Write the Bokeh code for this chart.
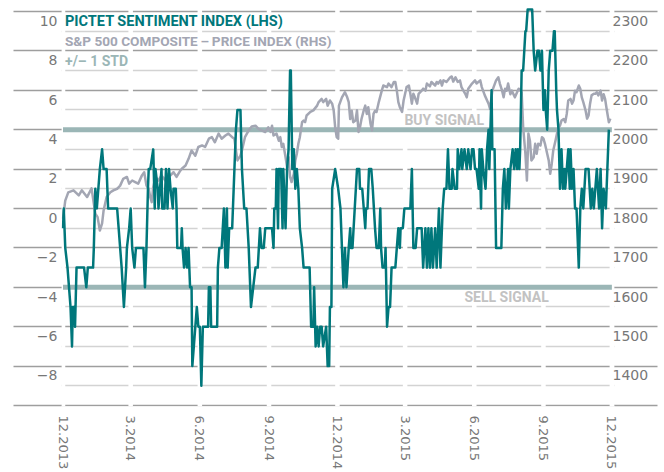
import pandas as pd
from bokeh.plotting import figure
from bokeh.models import Range1d, LinearAxis, FixedTicker, Label
from bokeh.embed import file_html
from bokeh.resources import INLINE

START = pd.Timestamp("2013-12-01")

# Pictet sentiment index (LHS): days after 1 Dec 2013 and index value
sent_days = [
    0, 1, 3, 6, 8, 10, 12, 13, 15, 16,
    18, 28, 31, 33, 40, 41, 43, 45, 47, 49,
    52, 54, 58, 60, 72, 74, 76, 78, 81, 84,
    85, 88, 90, 92, 95, 97, 107, 109, 111, 113,
    114, 116, 120,
    122, 123, 126, 127, 131, 132, 135, 137, 138, 139,
    141, 143, 146, 147, 150, 151, 152, 157, 158, 159,
    161, 163, 165, 167, 169, 171, 172, 176, 178, 180,
    182, 184, 186, 193, 194, 196, 197, 205, 206, 208,
    211, 214, 216, 218, 219, 221, 225, 227, 228, 230,
    232, 236,
    238, 241, 244, 247, 249, 250, 253, 256, 259, 262,
    264, 267, 269, 276, 278, 280, 281, 283, 284, 286,
    287, 290, 292, 293, 296, 298, 300, 302, 303, 305,
    307, 309, 311, 313, 315, 318, 320, 324, 328, 330,
    333, 334, 336, 338, 340, 342, 344, 346, 350, 352,
    354, 355, 357, 358,
    362, 366, 369, 373, 375, 377, 380, 382, 383, 385,
    388, 391, 394, 395, 398, 400, 402, 403, 405, 407,
    410, 412, 415, 417, 420, 422, 423, 425, 428, 429,
    431, 433, 435, 437, 442, 444, 446, 448, 449, 452,
    454, 462, 464, 466, 469, 471,
    473, 477, 479, 482, 484, 486, 488, 490, 492, 495,
    497, 500, 502, 505, 507, 510, 512, 514, 517, 518,
    521, 524, 525, 527, 530, 531, 534, 537, 539, 542,
    544, 546, 548, 550, 553, 554, 556, 557, 559, 562,
    564, 566, 567, 570, 571, 574, 576, 583, 585, 587,
    589, 592, 593, 595, 598, 600, 602, 604, 605, 607,
    608, 610, 612, 615, 616, 618, 624, 626, 628, 631,
    633, 635, 637, 639, 641, 642, 644, 646, 648, 651,
    653, 654, 656, 657, 659, 661, 663, 665, 667, 668,
    670, 672, 674, 675, 677, 679, 681, 683, 686, 688,
    690, 692, 695, 699, 702, 704, 706, 708, 710, 713,
    715, 717, 719, 722, 724, 726,
]
sent_vals = [
    -1, 0, -2, -3, -4, -5, -7, -5, -5, -6,
    -3, -3, -4, -3, -3, -2, 1, 0, 1, 2,
    3, 2, 2, 0, 0, -1, -2, -3, -5, -3,
    -2, -1, 0, -2, -3, -2, -2, -4, -2, 1,
    2, 2, 3,
    0, 2, 1, 0, 2, 0, 0, 2, 1, 0,
    2, 1, 0, 1, 1, 0, -2, -2, -1, -2,
    -3, -2, -3, -2, -4, -4, -8, -6, -5, -6,
    -6, -9, -6, -6, -4, -4, -6, -6, -3, -2,
    -2, 0, -3, 0, -3, -1, -1, 1, 2, 4,
    5, 5,
    2, 0, 0, -2, -4, -5, -4, -3, -3, -1,
    -2, -2, -1, -1, -1, -2, 0, 0, 2, -1,
    2, 2, -1, 2, -1, 2, 3, 7, 7, 2,
    3, 1, 2, 1, -1, -2, -3, -3, -3, -6,
    -6, -4, -7, -6, -7, -6, -6, -7, -6, -8,
    -8, -5, -5, 1,
    2, 1, 0, -4, -2, -4, -2, -1, -2, -2,
    0, 2, 2, 1, 1, 0, -1, 0, 0, 2,
    2, 1, -1, -2, -2, 0, -2, -3, -3, -2,
    -6, -5, -5, -3, -3, -2, -1, -2, -1, -1,
    0, 0, 2, -2, -2, -1,
    -1, -1, -3, -1, -3, -1, -3, -1, -3, -1,
    -3, 0, -3, 0, 1, 1, 3, 1, 1, 2,
    1, 1, 3, 2, 3, 2, 3, 2, 3, 2,
    3, 3, 2, 2, 1, 3, 0, 3, 2, 1,
    3, 4, 2, 6, 3, 3, -2, -2, 1, 2,
    0, 2, 0, 2, 3, 2, 3, 2, 3, 2,
    3, 7, 7, 9, 9, 10.1, 10.1, 8, 7, 8,
    8, 7, 8, 5, 6, 5, 4, 7, 8, 8,
    9, 9, 6, 5, 4, 1, 3, 1, 2, 1,
    2, 3, 1, 3, 1, 2, 0, 0, -3, 0,
    1, 0, 2, 2, 0, 1, 0, 1, 2, 0,
    2, -1, 1, 0, 2, 4,
]

# S&P 500 composite price index (RHS): days after 1 Dec 2013 and level
spx_days = [
    0, 3, 7, 14, 21, 25, 32, 38, 41, 43,
    46, 49, 52, 54, 58, 63, 67, 72, 76, 80,
    85, 88, 92, 96, 100, 105, 108, 111, 114, 116,
    118, 120, 123, 127, 131, 136, 138, 143, 147, 151,
    156, 158, 163, 167, 171, 176, 180, 185, 189, 194,
    198, 202, 207, 211, 216, 220, 225, 228, 230, 232,
    236, 238, 242, 247, 251, 256, 260, 264, 269, 273,
    276, 278, 280, 284, 287, 289, 291, 293, 296, 298,
    300, 302, 304, 307, 309, 311, 313, 315, 318, 320,
    322, 324, 329, 333, 338, 340, 344, 346, 350, 352,
    355, 358, 360, 362, 364, 366, 367, 371, 375, 378,
    380, 382, 384, 386, 389, 391, 393, 395, 397, 400,
    402, 404, 406, 409, 411, 413, 415, 417, 420, 424,
    426, 431, 433, 437, 440, 442, 444, 446, 448, 451,
    453, 455, 457, 460, 462, 464, 466, 468, 471, 473,
    477, 479, 482, 484, 488, 490, 495, 497, 499, 502,
    504, 506, 510, 515, 517, 519, 522, 525, 528, 530,
    535, 537, 539, 544, 548, 550, 555, 557, 561, 566,
    568, 571, 576, 579, 581, 584, 586, 588, 590, 592,
    595, 597, 601, 606, 610, 612, 615, 617, 619, 621,
    623, 626, 628, 630, 632, 635, 637, 639, 641, 643,
    646, 648, 650, 652, 655, 657, 659, 661, 663, 666,
    668, 670, 672, 675, 677, 679, 681, 683, 686, 688,
    690, 692, 695, 697, 699, 701, 703, 706, 708, 710,
    712, 715, 717, 719, 721, 723, 726, 728,
]
spx_vals = [
    1774, 1820, 1841, 1846, 1833, 1846, 1829, 1851, 1812, 1787,
    1778, 1744, 1762, 1795, 1829, 1841, 1846, 1850, 1858, 1875,
    1880, 1863, 1871, 1867, 1863, 1884, 1892, 1858, 1850, 1829,
    1816, 1854, 1880, 1871, 1884, 1871, 1888, 1884, 1892, 1880,
    1896, 1901, 1909, 1926, 1947, 1934, 1956, 1960, 1956, 1977,
    1981, 1968, 1990, 1977, 1985, 1990, 1981, 1977, 1947, 1922,
    1934, 1947, 1981, 1998, 2008, 2010, 2002, 1998, 1994, 2006,
    1994, 2010, 1985, 1990, 1972, 1981, 1956, 1964, 1930, 1905,
    1930, 1880, 1867, 1888, 1922, 1939, 1964, 1981, 2019, 2023,
    2019, 2036, 2045, 2049, 2061, 2070, 2078, 2070, 2078, 2061,
    2074, 2066, 2049, 2006, 1981, 1977, 2061, 2082, 2095, 2082,
    2070, 2027, 2048, 2019, 2023, 2049, 1994, 2006, 2027, 2049,
    2061, 2040, 2057, 2015, 1998, 2040, 2048, 2045, 2070, 2099,
    2112, 2108, 2117, 2108, 2121, 2121, 2099, 2070, 2057, 2045,
    2074, 2091, 2108, 2112, 2091, 2066, 2091, 2082, 2066, 2091,
    2099, 2104, 2099, 2117, 2110, 2121, 2112, 2121, 2117, 2125,
    2112, 2125, 2121, 2133, 2135, 2122, 2133, 2121, 2125, 2108,
    2091, 2082, 2104, 2117, 2125, 2117, 2125, 2108, 2087, 2066,
    2053, 2099, 2125, 2133, 2117, 2099, 2082, 2104, 2099, 2117,
    2090, 2099, 2082, 2104, 2095, 2006, 1939, 1871, 1990, 1972,
    1922, 1930, 1964, 1939, 1964, 1960, 1981, 1977, 1964, 1947,
    1922, 1888, 1913, 1947, 1972, 1990, 2006, 2010, 2023, 2027,
    2019, 2040, 2074, 2078, 2066, 2074, 2099, 2095, 2112, 2104,
    2082, 2070, 2049, 2028, 2036, 2066, 2087, 2091, 2091, 2095,
    2087, 2099, 2074, 2090, 2078, 2053, 2019, 2028,
]

# +/- 1 STD signal levels on the sentiment index
buy_level = 4
sell_level = -4

lhs_ticks = [-10, -8, -6, -4, -2, 0, 2, 4, 6, 8, 10]
lhs_labels = ["", "\u22128", "\u22126", "\u22124", "\u22122", "0", "2", "4", "6", "8", "10"]
lhs_minor = [-9, -7, -5, -3, -1, 1, 3, 5, 7, 9]
rhs_ticks = [1300, 1400, 1500, 1600, 1700, 1800, 1900, 2000, 2100, 2200, 2300]
rhs_labels = ["", "1400", "1500", "1600", "1700", "1800", "1900", "2000", "2100", "2200", "2300"]
x_tick_dates = ["2013-12-01", "2014-03-01", "2014-06-01", "2014-09-01", "2014-12-01",
                "2015-03-01", "2015-06-01", "2015-09-01", "2015-12-01"]
x_tick_labels = ["12.2013", "3.2014", "6.2014", "9.2014", "12.2014",
                 "3.2015", "6.2015", "9.2015", "12.2015"]

TEAL = "#00777b"
SPX_GRAY = "#a3a6b3"
STD_COL = "#9bb6b6"
GRID_DARK = "#9e9e9e"
GRID_LIGHT = "#d3d3d3"
LABEL_COL = "#777777"
SIGNAL_TXT = "#c2c2c2"

sent_x = START + pd.to_timedelta(sent_days, unit="D")
spx_x = START + pd.to_timedelta(spx_days, unit="D")
tick_x = pd.to_datetime(x_tick_dates)
tick_ms = [float(t.value // 10**6) for t in tick_x]

HEADROOM = 20  # hidden canvas space above the page top, so top labels are not squeezed

x_lo = START - pd.Timedelta(days=2)
x_hi = START + pd.Timedelta(days=733.5)
y_lo, y_hi = -10.05, 10.2
p = figure(
    frame_width=553, frame_height=399,
    x_axis_type="datetime",
    x_range=Range1d(x_lo, x_hi),
    y_range=Range1d(y_lo, y_hi),
    output_backend="svg", toolbar_location=None,
    min_border_left=61, min_border_right=50, min_border_top=7 + HEADROOM,
    min_border_bottom=66,
    background_fill_color="white", border_fill_color="white",
    styles={"margin-top": f"-{HEADROOM}px"},
)
p.outline_line_color = None
p.extra_y_ranges = {"spx": Range1d(1800 + 50 * y_lo, 1800 + 50 * y_hi)}

# grid
p.xgrid.grid_line_color = None
p.ygrid.grid_line_color = GRID_DARK
p.ygrid.grid_line_width = 1.5
p.ygrid.minor_grid_line_color = GRID_LIGHT
p.ygrid.minor_grid_line_width = 1.5

LBL_FONT = "DejaVu Sans"
LBL_SIZE = "14px"


def style_y_axis(ax, tick_out, standoff):
    ax.axis_line_color = None
    ax.major_tick_in = 0
    ax.major_tick_out = tick_out
    ax.major_tick_line_color = GRID_DARK
    ax.major_tick_line_width = 1.5
    ax.minor_tick_in = 0
    ax.minor_tick_out = 0
    ax.major_label_standoff = standoff
    ax.major_label_text_font = LBL_FONT
    ax.major_label_text_font_size = LBL_SIZE
    ax.major_label_text_line_height = 1.17
    ax.major_label_text_color = LABEL_COL


# left axis: labels hang just below their grid line (blank first line)
lax = p.yaxis[0]
lax.ticker = FixedTicker(ticks=lhs_ticks, minor_ticks=lhs_minor)
lax.major_label_overrides = {float(t): "\n" + s for t, s in zip(lhs_ticks, lhs_labels)}
style_y_axis(lax, 48, -44)

# right axis
rax = LinearAxis(y_range_name="spx", ticker=FixedTicker(ticks=rhs_ticks, minor_ticks=[]))
rax.major_label_overrides = {float(t): "\n" + s for t, s in zip(rhs_ticks, rhs_labels)}
style_y_axis(rax, 43, -45)
p.add_layout(rax, "right")

# x axis
xax = p.xaxis[0]
xax.ticker = FixedTicker(ticks=tick_ms)
xax.major_label_overrides = {t: s for t, s in zip(tick_ms, x_tick_labels)}
xax.axis_line_color = None
xax.major_tick_in = 0
xax.major_tick_out = 0
xax.minor_tick_in = 0
xax.minor_tick_out = 0
xax.major_label_orientation = "vertical"
xax.major_label_standoff = 9
xax.major_label_text_font = LBL_FONT
xax.major_label_text_font_size = "13px"
xax.major_label_text_color = LABEL_COL

# white gaps in the grid at each date tick
p.vbar(x=tick_x, width=6 * 86400000, bottom=y_lo, top=y_hi,
       fill_color="white", line_color=None)

# +/- 1 STD signal lines
p.line(x=[tick_x[0], tick_x[-1]], y=[buy_level, buy_level], line_color=STD_COL, line_width=5)
p.line(x=[tick_x[0], tick_x[-1]], y=[sell_level, sell_level], line_color=STD_COL, line_width=5)

# series
p.line(x=spx_x, y=spx_vals, y_range_name="spx", line_color=SPX_GRAY, line_width=2.5,
       line_join="round")
p.line(x=sent_x, y=sent_vals, line_color=TEAL, line_width=2.5, line_join="round")

# legend texts
legend_items = [("PICTET SENTIMENT INDEX (LHS)", TEAL, 9.5, "14.5px"),
                ("S&P 500 COMPOSITE\u2009\u2013\u2009PRICE INDEX (RHS)", SPX_GRAY, 8.5, "13.6px"),
                ("+/\u2013 1 STD", STD_COL, 7.5, "14px")]
for txt, col, yy, fs in legend_items:
    p.add_layout(Label(x=START, y=yy, x_offset=2, text=txt, text_color=col,
                       text_font="Roboto", text_font_style="bold", text_font_size=fs,
                       text_baseline="middle"))

p.add_layout(Label(x=START + pd.Timedelta(days=507), y=buy_level, y_offset=10,
                   text="BUY SIGNAL", text_color=SIGNAL_TXT, text_font="Roboto",
                   text_font_style="bold", text_font_size="14px",
                   text_align="center", text_baseline="middle"))
p.add_layout(Label(x=START + pd.Timedelta(days=590), y=sell_level, y_offset=-10,
                   text="SELL SIGNAL", text_color=SIGNAL_TXT, text_font="Roboto",
                   text_font_style="bold", text_font_size="14px",
                   text_align="center", text_baseline="middle"))

open("out.html", "w").write(file_html(p, INLINE))
